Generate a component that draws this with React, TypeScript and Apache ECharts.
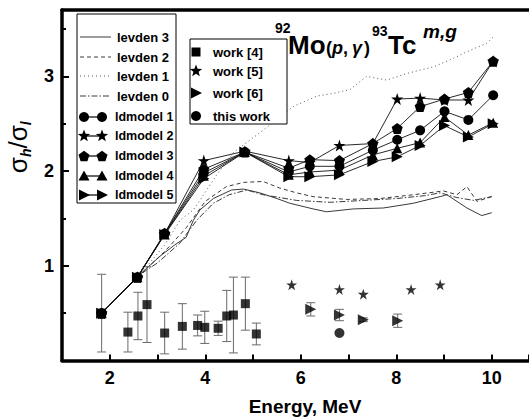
import React, { useEffect, useRef } from 'react';
import * as echarts from 'echarts';

const FONT = '"Liberation Sans", Arial, Helvetica, sans-serif';

// ---------- data ----------
const modelE = [1.83, 2.58, 3.15, 3.97, 4.83, 5.75, 6.19, 6.81, 7.51, 8.02, 8.5, 9.01, 9.51, 10.03];
const ldmodel1 = [0.5, 0.88, 1.34, 1.98, 2.2, 1.99, 2.05, 2.05, 2.22, 2.33, 2.43, 2.63, 2.54, 2.8];
const ldmodel2 = [0.5, 0.88, 1.34, 2.11, 2.21, 2.11, 2.09, 2.27, 2.29, 2.76, 2.77, 2.75, 2.75, 3.16];
const ldmodel3 = [0.5, 0.88, 1.34, 2.02, 2.2, 2.03, 2.12, 2.11, 2.29, 2.45, 2.68, 2.76, 2.83, 3.16];
const ldmodel4 = [0.5, 0.88, 1.33, 1.95, 2.2, 1.96, 1.99, 2.01, 2.17, 2.24, 2.3, 2.57, 2.38, 2.51];
const ldmodel5 = [0.5, 0.88, 1.33, 1.92, 2.2, 1.94, 1.94, 1.96, 2.1, 2.15, 2.27, 2.48, 2.36, 2.5];

const levden3E = [1.83, 2.58, 3.05, 3.36, 3.6, 3.75, 3.89, 4.17, 4.55, 4.8, 5.14, 5.5, 5.77, 6.26, 6.54, 7.1, 7.73, 8.36, 8.92, 9.06, 9.48, 9.79, 10.0];
const levden3 = [0.5, 0.885, 1.1, 1.22, 1.3, 1.48, 1.59, 1.71, 1.8, 1.81, 1.77, 1.71, 1.66, 1.6, 1.57, 1.6, 1.61, 1.66, 1.73, 1.75, 1.61, 1.53, 1.56];
const levden2E = [1.83, 2.58, 3.15, 3.6, 4.0, 4.44, 4.8, 5.21, 5.56, 5.91, 6.26, 6.96, 7.66, 8.36, 8.99, 9.27, 9.48, 9.69, 10.0];
const levden2 = [0.5, 0.88, 1.15, 1.4, 1.68, 1.835, 1.88, 1.89, 1.82, 1.77, 1.73, 1.7, 1.71, 1.75, 1.79, 1.75, 1.835, 1.68, 1.73];
const levden1E = [1.83, 2.58, 2.77, 3.15, 3.47, 3.75, 3.9, 4.24, 4.6, 5.21, 5.84, 6.33, 6.68, 7.03, 7.38, 7.8, 8.22, 8.78, 9.2, 9.48, 9.9, 10.04];
const levden1 = [0.5, 0.88, 0.99, 1.22, 1.48, 1.59, 1.7, 1.96, 2.2, 2.43, 2.68, 2.79, 2.82, 2.86, 3.0, 2.96, 3.03, 3.1, 3.19, 3.26, 3.35, 3.42];
const levden0E = [1.83, 2.58, 2.77, 3.0, 3.47, 3.82, 4.17, 4.5, 4.87, 5.21, 5.91, 6.61, 7.31, 8.01, 8.6, 8.92, 9.27, 9.62, 10.0];
const levden0 = [0.5, 0.88, 0.955, 1.03, 1.24, 1.48, 1.66, 1.75, 1.8, 1.75, 1.69, 1.67, 1.69, 1.71, 1.74, 1.77, 1.72, 1.69, 1.73];

const work4E = [1.83, 2.38, 2.59, 2.78, 3.15, 3.52, 3.84, 3.99, 4.27, 4.45, 4.59, 4.84, 5.07];
const work4R = [0.5, 0.3, 0.47, 0.59, 0.29, 0.36, 0.37, 0.35, 0.34, 0.47, 0.48, 0.6, 0.28];
const work4Err = [0.41, 0.21, 0.25, 0.4, 0.22, 0.24, 0.11, 0.17, 0.075, 0.27, 0.4, 0.28, 0.115];
const work5E = [5.81, 6.81, 7.31, 8.31, 8.92];
const work5R = [0.8, 0.75, 0.7, 0.75, 0.8];
const work6E = [6.21, 6.81, 7.31, 8.03];
const work6R = [0.54, 0.48, 0.43, 0.42];
const work6Err = [0.07, 0.06, 0.02, 0.07];
const thisWorkE = [6.81];
const thisWorkR = [0.29];

const xTickLabels = ['2', '4', '6', '8', '10'];
const yTickLabels = ['1', '2', '3'];

const levdenNames = ['levden 3', 'levden 2', 'levden 1', 'levden 0'];
const modelNames = ['ldmodel 1', 'ldmodel 2', 'ldmodel 3', 'ldmodel 4', 'ldmodel 5'];
const workNames = ['work [4]', 'work [5]', 'work [6]', 'this work'];

// ---------- symbols ----------
const STAR = 'path://M50,2 L61.2,36.3 L97.6,36.3 L68.2,57.7 L79.4,92.2 L50,71 L20.6,92.2 L31.8,57.7 L2.4,36.3 L38.8,36.3 Z';
const PENT = 'path://M50,2 L97.6,36.6 L79.4,92.5 L20.6,92.5 L2.4,36.6 Z';
const RTRI = 'path://M0,0 L100,50 L0,100 Z';
const modelSymbols = ['circle', STAR, PENT, 'triangle', RTRI];
const modelSizes = [10, 12, 11, 10, 11];

const pairs = (xs: number[], ys: number[]) => xs.map((x, i) => [x, ys[i]]);
const triples = (xs: number[], ys: number[], es: number[]) => xs.map((x, i) => [x, ys[i], es[i]]);

const errRender = (params: any, api: any) => {
  const x = api.value(0);
  const y = api.value(1);
  const e = api.value(2);
  const p1 = api.coord([x, y + e]);
  const p2 = api.coord([x, y - e]);
  const w = 4.5;
  const style = { stroke: '#6a6a6a', lineWidth: 1 };
  return {
    type: 'group',
    children: [
      { type: 'line', shape: { x1: p1[0], y1: p1[1], x2: p2[0], y2: p2[1] }, style },
      { type: 'line', shape: { x1: p1[0] - w, y1: p1[1], x2: p1[0] + w, y2: p1[1] }, style },
      { type: 'line', shape: { x1: p2[0] - w, y1: p2[1], x2: p2[0] + w, y2: p2[1] }, style },
    ],
  };
};

// legend glyph helpers (layout only)
const starPts = (cx: number, cy: number, r: number) => {
  const pts: number[][] = [];
  for (let i = 0; i < 10; i++) {
    const rr = i % 2 === 0 ? r : r * 0.42;
    const a = -Math.PI / 2 + (i * Math.PI) / 5;
    pts.push([cx + rr * Math.cos(a), cy + rr * Math.sin(a)]);
  }
  return pts;
};
const pentPts = (cx: number, cy: number, r: number) => {
  const pts: number[][] = [];
  for (let i = 0; i < 5; i++) {
    const a = -Math.PI / 2 + (i * 2 * Math.PI) / 5;
    pts.push([cx + r * Math.cos(a), cy + r * Math.sin(a)]);
  }
  return pts;
};
const glyph = (kind: number, cx: number, cy: number) => {
  const style = { fill: '#000' };
  const z = 12;
  switch (kind) {
    case 0: return { type: 'circle', shape: { cx, cy, r: 5 }, style, z };
    case 1: return { type: 'polygon', shape: { points: starPts(cx, cy, 6.5) }, style, z };
    case 2: return { type: 'polygon', shape: { points: pentPts(cx, cy + 0.5, 5.8) }, style, z };
    case 3: return { type: 'polygon', shape: { points: [[cx, cy - 5.5], [cx + 5.5, cy + 4.5], [cx - 5.5, cy + 4.5]] }, style, z };
    case 4: return { type: 'polygon', shape: { points: [[cx - 5, cy - 5.5], [cx + 6, cy], [cx - 5, cy + 5.5]] }, style, z };
    case 5: return { type: 'rect', shape: { x: cx - 4.5, y: cy - 4.5, width: 9, height: 9 }, style, z };
  }
  return null;
};

const txt = (text: string, x: number, y: number, size: number, extra: any = {}) => ({
  type: 'text',
  x,
  y,
  z: 12,
  style: {
    text,
    fill: '#000',
    fontFamily: FONT,
    fontWeight: 'bold',
    fontSize: size,
    textAlign: 'left',
    textVerticalAlign: 'middle',
    ...extra,
  },
});

export default function App() {
  const ref = useRef<HTMLDivElement>(null);
  useEffect(() => {
    if (!ref.current) return;
    const chart = echarts.init(ref.current, undefined, { renderer: 'svg' });

    const levdenData = [pairs(levden3E, levden3), pairs(levden2E, levden2), pairs(levden1E, levden1), pairs(levden0E, levden0)];
    const levdenDash: any[] = ['solid', [4, 3], [1, 3], [6, 2, 1.5, 2]];
    const levdenColor = ['#3a3a3a', '#3a3a3a', '#555', '#3a3a3a'];
    const modelData = [ldmodel1, ldmodel2, ldmodel3, ldmodel4, ldmodel5].map((m) => pairs(modelE, m));

    const series: any[] = [];
    levdenData.forEach((d, i) => {
      series.push({
        name: levdenNames[i], type: 'line', data: d, symbol: 'none', z: 2,
        lineStyle: { color: levdenColor[i], width: 1, type: levdenDash[i] },
      });
    });
    modelData.forEach((d, i) => {
      series.push({
        name: modelNames[i], type: 'line', data: d, symbol: modelSymbols[i], symbolSize: modelSizes[i],
        z: 3, lineStyle: { color: '#111', width: 0.9 }, itemStyle: { color: '#000' },
      });
    });
    series.push({ type: 'custom', name: 'err4', renderItem: errRender, data: triples(work4E, work4R, work4Err), encode: { x: 0, y: 1 }, z: 3 });
    series.push({ type: 'custom', name: 'err6', renderItem: errRender, data: triples(work6E, work6R, work6Err), encode: { x: 0, y: 1 }, z: 3 });
    series.push({ name: workNames[0], type: 'scatter', data: pairs(work4E, work4R), symbol: 'rect', symbolSize: 9, itemStyle: { color: '#000' }, z: 4 });
    series.push({ name: workNames[1], type: 'scatter', data: pairs(work5E, work5R), symbol: STAR, symbolSize: 11, itemStyle: { color: '#000' }, z: 4 });
    series.push({ name: workNames[2], type: 'scatter', data: pairs(work6E, work6R), symbol: RTRI, symbolSize: 11, itemStyle: { color: '#000' }, z: 4 });
    series.push({ name: workNames[3], type: 'scatter', data: pairs(thisWorkE, thisWorkR), symbol: 'circle', symbolSize: 10, itemStyle: { color: '#000' }, z: 4 });

    // legends (graphic)
    const graphics: any[] = [];
    graphics.push({ type: 'rect', shape: { x: 77, y: 14, width: 99, height: 189 }, style: { fill: '#fff', stroke: '#000', lineWidth: 1 }, z: 10 });
    const levY = [37, 57, 76, 96];
    levdenNames.forEach((n, i) => {
      graphics.push({ type: 'line', shape: { x1: 80, y1: levY[i], x2: 111, y2: levY[i] }, style: { stroke: levdenColor[i], lineWidth: 1, lineDash: levdenDash[i] === 'solid' ? null : levdenDash[i] }, z: 11 });
      graphics.push(txt(n, 117, levY[i], 13));
    });
    const modY = [117, 136, 156, 176, 195];
    modelNames.forEach((n, i) => {
      graphics.push({ type: 'line', shape: { x1: 84, y1: modY[i], x2: 102, y2: modY[i] }, style: { stroke: '#000', lineWidth: 1.2 }, z: 11 });
      graphics.push(glyph(i, 84, modY[i]));
      graphics.push(glyph(i, 102, modY[i]));
      graphics.push(txt(n, 115, modY[i], 12.5));
    });
    graphics.push({ type: 'rect', shape: { x: 190, y: 39, width: 97, height: 85 }, style: { fill: '#fff', stroke: '#000', lineWidth: 1 }, z: 10 });
    const wY = [52, 71, 93, 116];
    const wKinds = [5, 1, 4, 0];
    workNames.forEach((n, i) => {
      graphics.push(glyph(wKinds[i], 196, wY[i]));
      graphics.push(txt(n, 213, wY[i], 13));
    });

    // title
    graphics.push(txt('92', 275, 28, 14));
    graphics.push(txt('Mo', 288, 45, 26));
    graphics.push(txt('(', 326, 48, 18));
    graphics.push(txt('p', 332, 48, 18, { fontStyle: 'italic' }));
    graphics.push(txt(',', 343, 48, 18));
    graphics.push(txt('γ', 352, 48, 18, { fontStyle: 'italic' }));
    graphics.push(txt(')', 364, 48, 18));
    graphics.push(txt('93', 372, 31, 14));
    graphics.push(txt('Tc', 388, 45, 26));
    graphics.push(txt('m,g', 423, 31, 19, { fontStyle: 'italic' }));

    // x axis title
    graphics.push(txt('Energy, MeV', 305, 406, 19, { textAlign: 'center' }));

    const isNear = (v: number, list: string[]) => {
      const r = Math.round(v);
      return Math.abs(v - r) < 1e-6 && list.indexOf(String(r)) >= 0 ? String(r) : '';
    };

    const option: any = {
      animation: false,
      backgroundColor: '#fff',
      grid: { left: 62, right: 0, top: 10, bottom: 56.5, containLabel: false, outerBoundsMode: 'none' },
      xAxis: [
        {
          type: 'value', min: 1, max: 10.78, interval: 1,
          axisLine: { show: true, onZero: false, lineStyle: { color: '#000', width: 3.5 } },
          axisTick: { show: true, inside: true, length: 6, lineStyle: { color: '#000', width: 2 } },
          axisLabel: { formatter: (v: number) => isNear(v, xTickLabels), color: '#000', fontWeight: 'bold', fontSize: 18, fontFamily: FONT, margin: 8 },
          splitLine: { show: false },
        },
        {
          type: 'value', position: 'top', min: 1, max: 10.78,
          axisLine: { show: true, onZero: false, lineStyle: { color: '#000', width: 3.5 } },
          axisTick: { show: false }, axisLabel: { show: false }, splitLine: { show: false },
        },
      ],
      yAxis: {
        type: 'value', min: 0, max: 3.7, interval: 1,
        name: '{s|σ}{h|h}{s|/σ}{h|l}',
        nameLocation: 'middle',
        nameRotate: 90,
        nameGap: 17,
        nameTextStyle: {
          padding: [0, 0, 0, 76],
          rich: {
            s: { fontFamily: FONT, fontSize: 26, color: '#000', lineHeight: 30, verticalAlign: 'middle' },
            h: { fontFamily: FONT, fontSize: 14, fontWeight: 'bold', fontStyle: 'italic', color: '#000', lineHeight: 30, verticalAlign: 'bottom' },
          },
        },
        axisLine: { show: true, onZero: false, lineStyle: { color: '#000', width: 3.5 } },
        axisTick: { show: true, inside: true, length: 7, lineStyle: { color: '#000', width: 2 } },
        minorTick: { show: true, splitNumber: 2, length: 4, lineStyle: { color: '#000', width: 2 } },
        axisLabel: { formatter: (v: number) => isNear(v, yTickLabels), color: '#000', fontWeight: 'bold', fontSize: 18, fontFamily: FONT, margin: 8 },
        splitLine: { show: false },
        minorSplitLine: { show: false },
      },
      graphic: graphics,
      series,
    };
    chart.setOption(option);
    return () => chart.dispose();
  }, []);
  return (
    <div
      ref={ref}
      style={{ position: 'absolute', left: 0, top: 0, width: 529, height: 417, background: '#fff' }}
    />
  );
}
